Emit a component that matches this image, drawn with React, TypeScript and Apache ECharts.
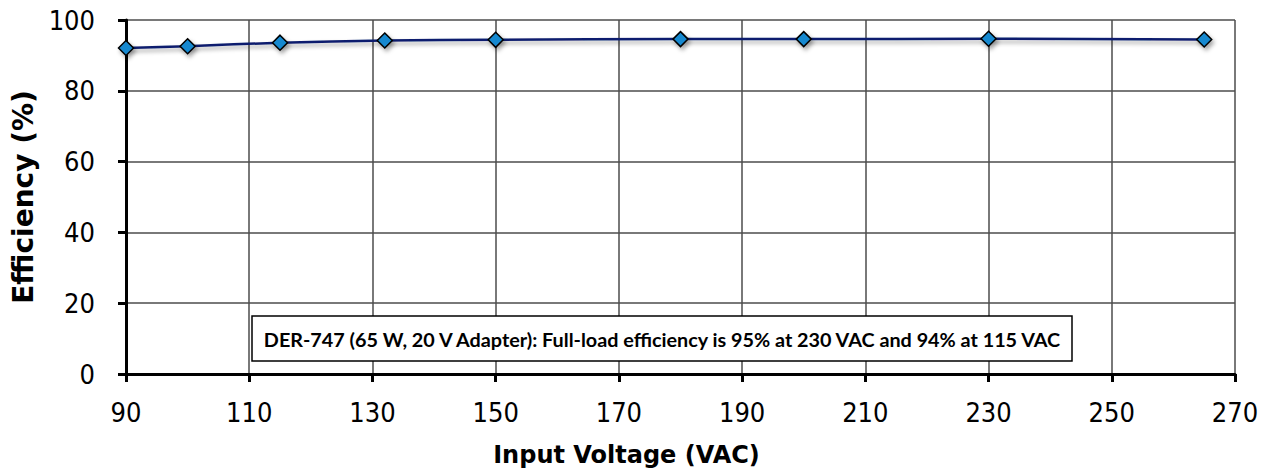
import React, { useEffect, useRef } from "react";
import * as echarts from "echarts";

const voltages = [90, 100, 115, 132, 150, 180, 200, 230, 265];
const efficiency = [92.1, 92.6, 93.6, 94.2, 94.4, 94.6, 94.6, 94.7, 94.5];
const xTitle = "Input Voltage (VAC)";
const yTitle = "Efficiency (%)";
const note = "DER-747 (65 W, 20 V Adapter): Full-load efficiency is 95% at 230 VAC and 94% at 115 VAC";

export default function App() {
  const ref = useRef<HTMLDivElement>(null);
  useEffect(() => {
    const chart = echarts.init(ref.current!, null, { renderer: "svg" });
    chart.setOption({
      animation: false,
      backgroundColor: "#ffffff",
      grid: { left: 126, right: 42, top: 20, bottom: 98 },
      xAxis: {
        type: "value",
        min: 90,
        max: 270,
        interval: 20,
        name: xTitle,
        nameLocation: "middle",
        nameGap: 69,
        nameTextStyle: {
          fontFamily: "DejaVu Sans",
          fontWeight: "bold",
          fontSize: 24,
          color: "#000",
          padding: [0, 108, 0, 0],
        },
        axisLine: { show: true, onZero: false, lineStyle: { color: "#000", width: 3 } },
        axisTick: { show: true, inside: false, length: 8, lineStyle: { color: "#000", width: 3 } },
        axisLabel: { fontFamily: "DejaVu Sans Condensed", fontSize: 27, color: "#000", margin: 25 },
        splitLine: { show: true, lineStyle: { color: "#4d4d4d", width: 1.5 } },
      },
      yAxis: {
        type: "value",
        min: 0,
        max: 100,
        interval: 20,
        name: yTitle,
        nameLocation: "middle",
        nameGap: 89,
        nameTextStyle: { fontFamily: "DejaVu Sans", fontWeight: "bold", fontSize: 28, color: "#000" },
        axisLine: { show: true, lineStyle: { color: "#000", width: 3 } },
        axisTick: { show: true, inside: false, length: 8, lineStyle: { color: "#000", width: 3 } },
        axisLabel: { fontFamily: "DejaVu Sans Condensed", fontSize: 27, color: "#000", margin: 31 },
        splitLine: { show: true, lineStyle: { color: "#4d4d4d", width: 1.5 } },
      },
      series: [
        {
          type: "line",
          data: voltages.map((v, i) => [v, efficiency[i]]),
          smooth: 0.3,
          symbol: "diamond",
          symbolSize: 15,
          lineStyle: {
            color: "#0d1f6e",
            width: 2.5,
            shadowColor: "rgba(0,0,0,0.35)",
            shadowBlur: 4,
            shadowOffsetY: 3,
          },
          itemStyle: {
            color: "#1589d0",
            borderColor: "#000",
            borderWidth: 1.5,
            shadowColor: "rgba(0,0,0,0.35)",
            shadowBlur: 4,
            shadowOffsetX: 2,
            shadowOffsetY: 3,
          },
          z: 5,
        },
      ],
      graphic: [
        {
          type: "rect",
          shape: { x: 252, y: 316, width: 820, height: 45 },
          style: { fill: "#fff", stroke: "#000", lineWidth: 1.5 },
          z: 10,
        },
        {
          type: "text",
          x: 662,
          y: 338.5,
          style: {
            text: note,
            fontFamily: "Lato",
            fontWeight: "bold",
            fontSize: 19.8,
            fill: "#000",
            align: "center",
            verticalAlign: "middle",
          },
          z: 11,
        },
      ],
    });
    return () => chart.dispose();
  }, []);
  return <div ref={ref} style={{ width: 1277, height: 472, position: "absolute", left: 0, top: 0 }} />;
}
